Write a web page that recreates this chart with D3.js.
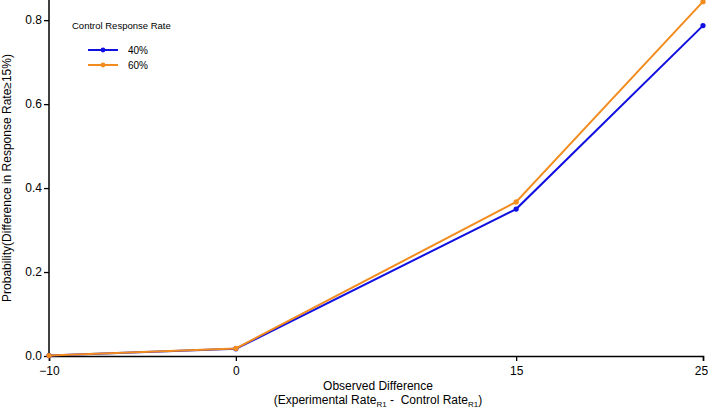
<!DOCTYPE html>
<html>
<head>
<meta charset="utf-8">
<script src="https://cdn.jsdelivr.net/npm/d3@7"></script>
<style>
  body { margin: 0; background: #fff; }
  svg { font-family: "Liberation Sans", Arial, sans-serif; }
  .tick text { font-size: 12px; fill: #000; }
</style>
</head>
<body>
<svg id="chart" width="708" height="408"></svg>
<script>
// observed difference (x) and probability values
var xValues = [-10, 0, 15, 25]
var rate40 = [0.001, 0.017, 0.350, 0.787]
var rate60 = [0.001, 0.018, 0.367, 0.844]
var seriesNames = ["40%", "60%"]
var seriesColors = ["#1010e0", "#f28c1e"]
var yTicks = [0, 0.2, 0.4, 0.6, 0.8]

var margin = { top: 0, right: 5, bottom: 52, left: 49 },
    width = 708 - margin.left - margin.right,
    height = 408 - margin.top - margin.bottom

var svg = d3.select('#chart')
var g = svg.append('g')
    .attr('transform', 'translate(' + margin.left + ',' + margin.top + ')')

var x = d3.scaleLinear().domain([-10, 25]).range([0, width])
var y = d3.scaleLinear().domain([0, 0.848]).range([height, 0])

var xAxis = d3.axisBottom(x).tickValues(xValues).tickSize(5).tickFormat(d3.format('d'))
var yAxis = d3.axisLeft(y).tickValues(yTicks).tickSize(5).tickFormat(d3.format('.1f'))

var xg = g.append('g')
    .attr('transform', 'translate(0,' + height + ')')
    .call(xAxis)
xg.select('.domain').attr('stroke-width', 1.5)
xg.selectAll('.tick line').attr('stroke-width', 1.3)
xg.selectAll('.tick text').attr('dy', '0.9em')
    .attr('dx', function(d) { return d === 25 ? -2 : 0 })

var yg = g.append('g').call(yAxis)
yg.select('.domain').attr('d', 'M0,' + height + 'V0').attr('stroke-width', 1.5)
yg.selectAll('.tick line').attr('stroke-width', 1.3)
yg.selectAll('.tick text').attr('x', -7)

var series = [rate40, rate60]
var line = d3.line()
    .x(function(d, i) { return x(xValues[i]) })
    .y(function(d) { return y(d) })

series.forEach(function(vals, k) {
    g.append('path')
        .datum(vals)
        .attr('fill', 'none')
        .attr('stroke', seriesColors[k])
        .attr('stroke-width', 2)
        .attr('d', line)
    g.selectAll('.pt' + k)
        .data(vals)
        .join('circle')
        .attr('class', 'pt' + k)
        .attr('cx', function(d, i) { return x(xValues[i]) })
        .attr('cy', function(d) { return y(d) })
        .attr('r', 2.6)
        .attr('fill', seriesColors[k])
})

// legend
var legend = svg.append('g')
legend.append('text')
    .attr('x', 72).attr('y', 29)
    .style('font-size', '9.5px')
    .text('Control Response Rate')
seriesNames.forEach(function(name, k) {
    var ly = 50 + k * 15
    legend.append('line')
        .attr('x1', 88).attr('x2', 118)
        .attr('y1', ly).attr('y2', ly)
        .attr('stroke', seriesColors[k]).attr('stroke-width', 2)
    legend.append('circle')
        .attr('cx', 103).attr('cy', ly).attr('r', 2.4)
        .attr('fill', seriesColors[k])
    legend.append('text')
        .attr('x', 128).attr('y', ly + 3.5)
        .style('font-size', '10px')
        .text(name)
})

// axis titles
var xt = svg.append('text')
    .attr('text-anchor', 'middle')
    .style('font-size', '12px')
xt.append('tspan').attr('x', 378).attr('y', 390).text('Observed Difference')
var l2 = xt.append('tspan').attr('x', 378).attr('y', 404)
l2.append('tspan').text('(Experimental Rate')
l2.append('tspan').attr('dy', 3).style('font-size', '8px').text('R1')
l2.append('tspan').attr('dy', -3).style('white-space', 'pre').text(' -  Control Rate')
l2.append('tspan').attr('dy', 3).style('font-size', '8px').text('R1')
l2.append('tspan').attr('dy', -3).text(')')

svg.append('text')
    .attr('transform', 'translate(11,' + (height / 2) + ') rotate(-90)')
    .attr('text-anchor', 'middle')
    .style('font-size', '12px')
    .text('Probability(Difference in Response Rate\u226515%)')
</script>
</body>
</html>
